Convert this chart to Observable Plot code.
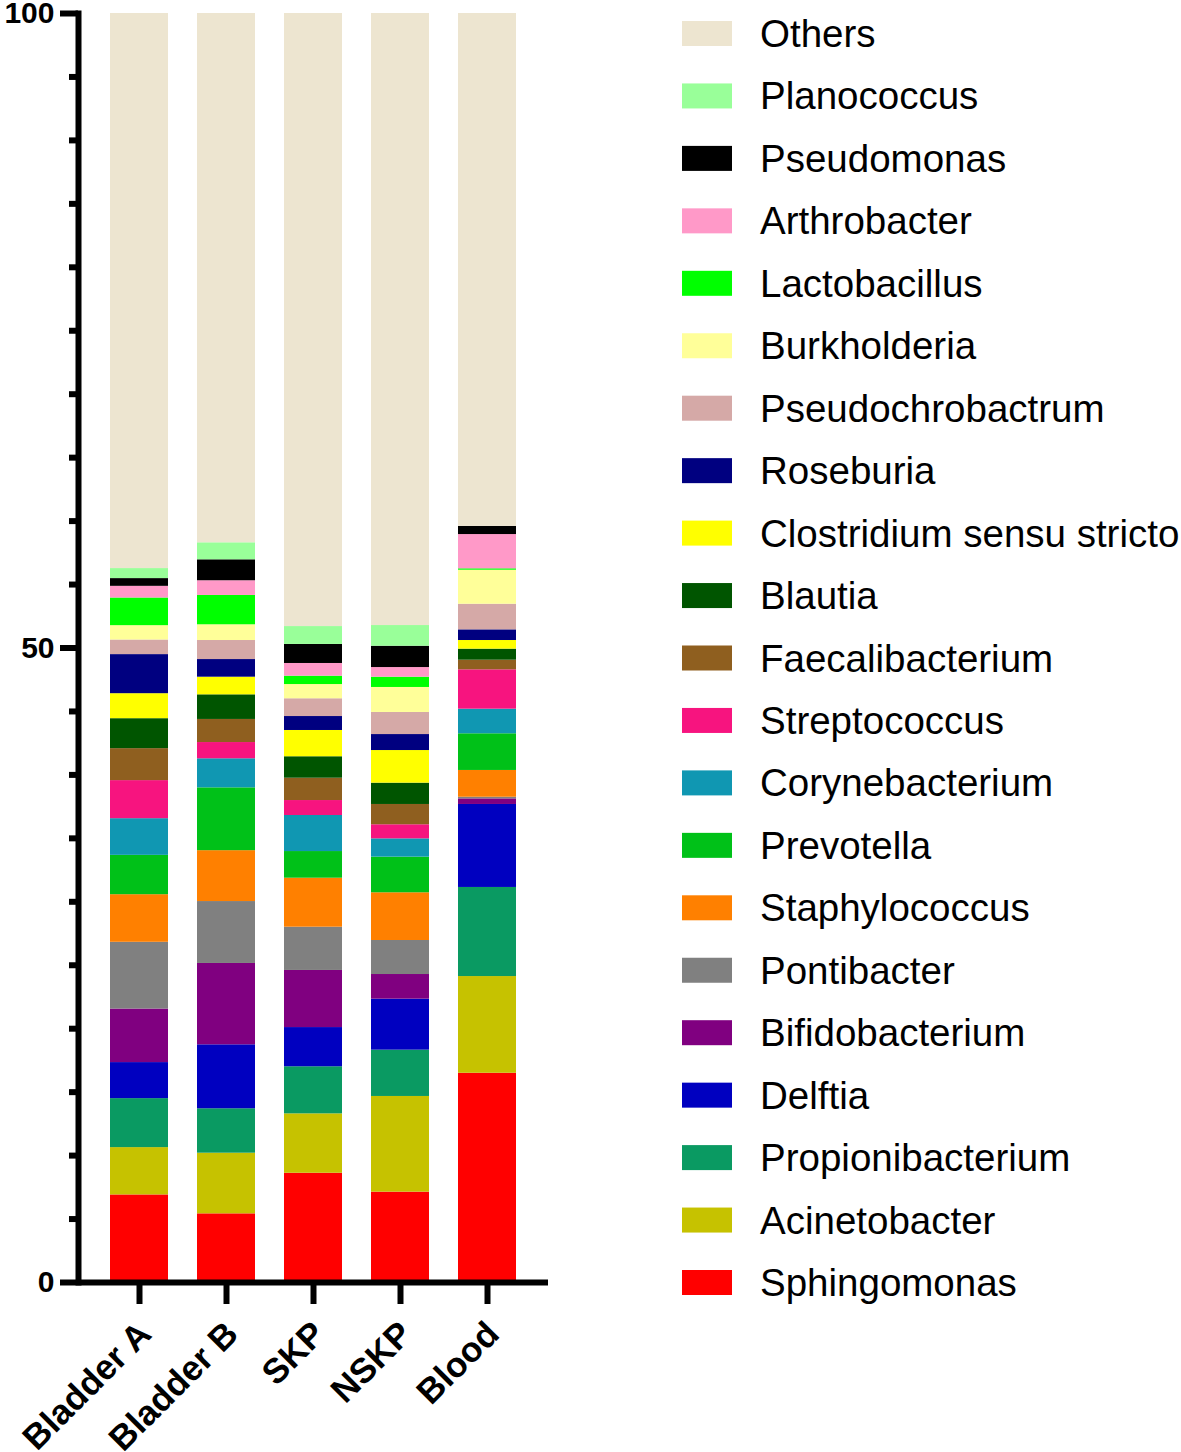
<!DOCTYPE html>
<html>
<head>
<meta charset="utf-8">
<script src="https://cdn.jsdelivr.net/npm/d3@7"></script>
<script src="https://cdn.jsdelivr.net/npm/@observablehq/plot@0.6"></script>
<style>
  html, body { margin: 0; padding: 0; background: #fff; }
  #wrap { position: relative; width: 1181px; height: 1452px; overflow: hidden; font-family: "Liberation Sans", Arial, sans-serif; }
  #chart { position: absolute; left: 0; top: 0; }
  #legend { position: absolute; left: 0; top: 0; }
</style>
</head>
<body>
<div id="wrap"><div id="chart"></div><svg id="legend" width="1181" height="1452"></svg></div>
<script>
// Samples (x categories)
const samples = ["Bladder A", "Bladder B", "SKP", "NSKP", "Blood"];

// Genera, stacked bottom -> top
const genera = ["Sphingomonas", "Acinetobacter", "Propionibacterium", "Delftia", "Bifidobacterium",
  "Pontibacter", "Staphylococcus", "Prevotella", "Corynebacterium", "Streptococcus",
  "Faecalibacterium", "Blautia", "Clostridium sensu stricto", "Roseburia", "Pseudochrobactrum",
  "Burkholderia", "Lactobacillus", "Arthrobacter", "Pseudomonas", "Planococcus", "Others"];

const colors = ["#ff0000", "#c6c200", "#0a9a62", "#0000c0", "#800080",
  "#808080", "#ff8000", "#00c118", "#1097b2", "#f7147f",
  "#8f5f1f", "#005500", "#ffff00", "#000080", "#d5a9a7",
  "#ffff99", "#00ff00", "#ff99c8", "#000000", "#99ff99", "#ede5d0"];

// Relative abundance (%) per sample, same order as genera
const bladderA = [6.90, 3.73, 3.86, 2.84, 4.22, 5.26, 3.75, 3.10, 2.89, 3.00, 2.52, 2.36, 1.97, 3.08, 1.15, 1.13, 2.18, 0.92, 0.61, 0.79, 43.74];
const bladderB = [5.41, 4.78, 3.50, 5.04, 6.41, 4.88, 4.01, 4.95, 2.29, 1.28, 1.82, 1.94, 1.39, 1.39, 1.50, 1.24, 2.31, 1.16, 1.65, 1.34, 41.71];
const skp      = [8.61, 4.68, 3.71, 3.09, 4.50, 3.41, 3.86, 2.10, 2.84, 1.18, 1.76, 1.69, 2.07, 1.10, 1.40, 1.12, 0.66, 1.00, 1.50, 1.41, 48.31];
const nskp     = [7.12, 7.54, 3.65, 4.02, 1.94, 2.68, 3.76, 2.81, 1.44, 1.11, 1.60, 1.68, 2.57, 1.26, 1.74, 1.97, 0.81, 0.76, 1.68, 1.63, 48.23];
const blood    = [16.49, 7.62, 7.02, 6.54, 0.44, 0.13, 2.11, 2.89, 1.94, 3.10, 0.76, 0.87, 0.68, 0.84, 2.02, 2.68, 0.11, 2.70, 0.64, 0.00, 40.42];

// Y tick values
const majorTicks = [0, 50, 100];
const minorTicks = d3.range(5, 100, 5).filter(v => v % 50 !== 0);

const seriesBySample = [bladderA, bladderB, skp, nskp, blood];
const data = [];
samples.forEach((s, si) => {
  genera.forEach((g, gi) => data.push({sample: s, genus: g, value: seriesBySample[si][gi]}));
});

const font = "'Liberation Sans', Arial, sans-serif";

const plot = Plot.plot({
  width: 560,
  height: 1452,
  marginTop: 13,
  marginBottom: 170,
  marginLeft: 78,
  marginRight: 12,
  style: {fontFamily: font, background: "transparent", color: "black", overflow: "visible"},
  x: {domain: samples, range: [95.5, 530.5], paddingInner: 1/3, paddingOuter: 1/6, round: false},
  y: {domain: [0, 100]},
  color: {domain: genera, range: colors},
  marks: [
    Plot.barY(data, {x: "sample", y: "value", fill: "genus", order: genera, inset: 0}),
    Plot.frame({anchor: "left", strokeWidth: 6, stroke: "black"}),
    Plot.ruleY([0], {strokeWidth: 6, stroke: "black"}),
    Plot.axisY({ticks: majorTicks, tickSize: 18, strokeWidth: 6, tickFormat: () => "", label: null}),
    Plot.axisY({ticks: minorTicks, tickSize: 9, strokeWidth: 6, tickFormat: () => "", label: null}),
    Plot.text(majorTicks, {y: d => d, text: d => String(d), frameAnchor: "left", textAnchor: "end",
      dx: -24, fontSize: 30, fontWeight: "bold", fill: "black"}),
    Plot.axisX({tickSize: 22, strokeWidth: 6, tickFormat: () => "", label: null}),
    Plot.text(samples, {x: d => d, text: d => d, frameAnchor: "bottom", rotate: -45,
      textAnchor: "end", lineAnchor: "top", dx: -4, dy: 36, fontSize: 35, fontWeight: "bold", fill: "black"})
  ]
});
document.getElementById("chart").appendChild(plot);

// Legend (top -> bottom order is the reverse of the stack)
const legendItems = genera.map((g, i) => ({genus: g, color: colors[i]})).reverse();
const lg = d3.select("#legend");
legendItems.forEach((d, i) => {
  const cy = 33.5 + i * 62.45;
  lg.append("rect").attr("x", 682).attr("y", cy - 12.5).attr("width", 50).attr("height", 25).attr("fill", d.color);
  lg.append("text").attr("x", 760).attr("y", cy + 13.5).attr("font-size", 38.5)
    .attr("font-family", font).attr("fill", "black").text(d.genus);
});
</script>
</body>
</html>
